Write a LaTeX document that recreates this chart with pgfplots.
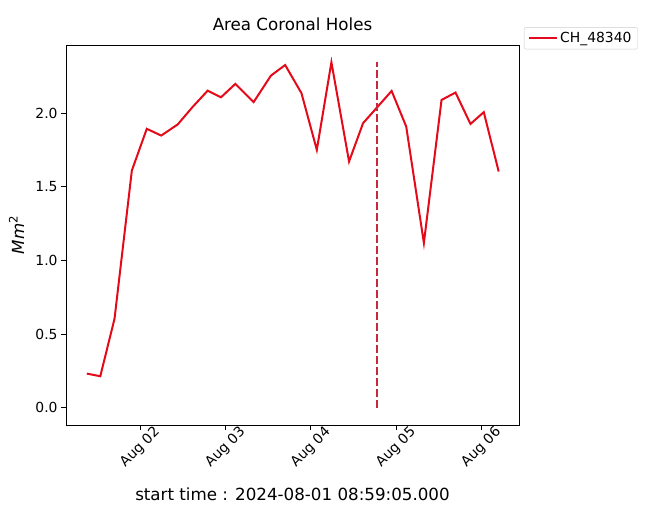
\documentclass[border=0pt]{standalone}
\usepackage{fontspec}
\setmainfont{DejaVu Sans}
\usepackage{pgfplots}
\pgfplotsset{compat=1.18}
\definecolor{linered}{RGB}{228,10,25}
\definecolor{vred}{RGB}{200,40,60}
\begin{document}
\begin{tikzpicture}
\begin{axis}[
  at={(0,0)}, anchor=south west,
  width=453pt, height=380pt, scale only axis,
  xmin=0.13, xmax=5.44, ymin=-0.117, ymax=2.463,
  xtick={1,2,3,4,5},
  xticklabels={Aug 02,Aug 03,Aug 04,Aug 05,Aug 06},
  ytick={0,0.5,1,1.5,2},
  yticklabels={0.0,0.5,1.0,1.5,2.0},
  tick align=outside, major tick length=4.9pt,
  tick pos=left,
  tick style={black, line width=0.8pt},
  axis line style={line width=0.8pt},
  /pgf/number format/assume math mode=true,
  ticklabel style={font=\fontsize{13.9}{16}\selectfont},
  x tick label style={anchor=center, yshift=-17.6pt, rotate=45},
  title={Area Coronal Holes},
  title style={at={(axis description cs:0.5,1)}, anchor=base, yshift=8pt, font=\fontsize{16.7}{19}\selectfont, inner sep=0pt},
  xlabel={start time : 2024-08-01 08:59:05.000},
  xlabel style={at={(axis description cs:0.5,0)}, anchor=base, yshift=-75pt, font=\fontsize{16.7}{19}\selectfont, inner sep=0pt},
  ylabel={\textit{Mm}\textsuperscript{2}},
  ylabel style={at={(axis description cs:-0.0927,0.5)}, rotate=0, anchor=base, font=\fontsize{16.7}{19}\selectfont, inner sep=0pt},
  legend style={at={(axis description cs:1.011,1.047)}, anchor=north west, draw=black!20, rounded corners=2pt, fill=white, font=\fontsize{13.9}{16}\selectfont, inner xsep=4pt, inner ysep=3pt, cells={anchor=west}},
  legend image code/.code={\draw[#1] (0pt,0pt) -- (28pt,0pt);},
]
\addplot[linered, line width=2pt] coordinates {
(0.374,0.232) (0.532,0.214) (0.699,0.605) (0.902,1.611) (1.077,1.894)
(1.246,1.848) (1.440,1.924) (1.615,2.043) (1.791,2.153) (1.947,2.108)
(2.115,2.199) (2.329,2.075) (2.532,2.255) (2.699,2.327) (2.890,2.136)
(3.070,1.751) (3.241,2.346) (3.448,1.672) (3.612,1.932) (3.947,2.151)
(4.118,1.909) (4.325,1.119) (4.532,2.090) (4.696,2.140) (4.871,1.927)
(5.027,2.007) (5.202,1.604)
};
\addlegendentry{CH\_48340}
\addplot[vred, line width=2pt, dash pattern=on 7.5pt off 3.5pt, forget plot] coordinates {(3.779,0) (3.779,2.346)};
\node[anchor=base west, inner sep=0pt, font=\fontsize{13.9}{16}\selectfont] at ([yshift=4pt]axis description cs:0,1) {1e10};
\end{axis}
\pgfresetboundingbox
\path (-66pt,-83pt) rectangle (581pt,425pt);
\end{tikzpicture}
\end{document}
